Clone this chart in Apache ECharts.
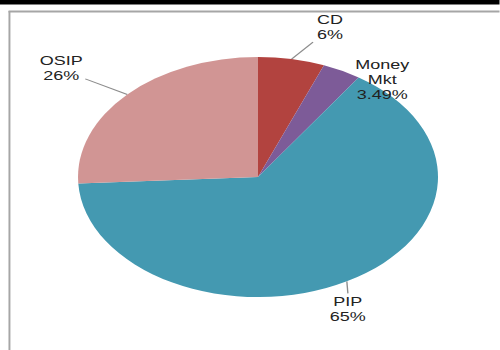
<!DOCTYPE html>
<html><head><meta charset="utf-8">
<script src="https://cdn.jsdelivr.net/npm/echarts@6/dist/echarts.min.js"></script>
<style>
html,body{margin:0;padding:0;background:#fff;}
#wrap{width:500px;height:350px;overflow:hidden;position:relative;background:#fff;}
#chart{width:333.333px;height:350px;transform:scaleX(1.5);transform-origin:0 0;}
</style></head><body>
<div id="wrap"><div id="chart"></div></div>
<script>
// ---- data ----
const categories = ['CD', 'Money Mkt', 'PIP', 'OSIP'];
const values = [6, 3.49, 65, 26];

// ---- styles / layout (not data) ----
const colors = ['#B2433F', '#7D5B98', '#4499B1', '#D19594'];
const labelOffsets = [[25.6, -32], [26.9, 9.2], [0.6, 28], [-44, -26]];
const lineOffsets = [[14.3, -17], null, [0.7, 12], [-28, -15.6]];

const chart = echarts.init(document.getElementById('chart'), null, {renderer: 'svg'});
chart.setOption({
  animation: false,
  backgroundColor: '#fff',
  graphic: [
    {type: 'rect', z: -1, shape: {x: 0, y: 0, width: 334, height: 4.5}, style: {fill: '#000'}},
    {type: 'line', z: -1, shape: {x1: 5.7, y1: 11.5, x2: 334, y2: 11.5}, style: {stroke: '#a6a6a6', lineWidth: 2}},
    {type: 'line', z: -1, shape: {x1: 6.3, y1: 11, x2: 6.3, y2: 350}, style: {stroke: '#a6a6a6', lineWidth: 1.3}}
  ],
  series: [{
    type: 'pie',
    center: [172, 177],
    radius: 120,
    startAngle: 90,
    clockwise: true,
    avoidLabelOverlap: false,
    silent: true,
    itemStyle: {borderWidth: 0},
    data: categories.map((c, i) => ({name: c, value: values[i], itemStyle: {color: colors[i]}})),
    label: {
      show: true,
      position: 'outside',
      formatter: p => p.name.replace(' ', '\n') + '\n' + p.value + '%',
      fontFamily: 'Liberation Sans, Arial, sans-serif',
      fontSize: 12,
      lineHeight: 15,
      color: '#222',
      align: 'center'
    },
    labelLine: {show: true, length: 5, length2: 5, smooth: false, lineStyle: {color: '#8c8c8c', width: 0.9}},
    labelLayout: function (p) {
      const e = p.labelLinePoints[0];
      const i = p.dataIndex;
      const lo = labelOffsets[i];
      const ln = lineOffsets[i];
      return {
        x: e[0] + lo[0],
        y: e[1] + lo[1],
        align: 'center',
        verticalAlign: 'middle',
        labelLinePoints: ln ? [e, [e[0] + ln[0], e[1] + ln[1]]] : [e, e]
      };
    }
  }]
});
</script>
</body></html>
